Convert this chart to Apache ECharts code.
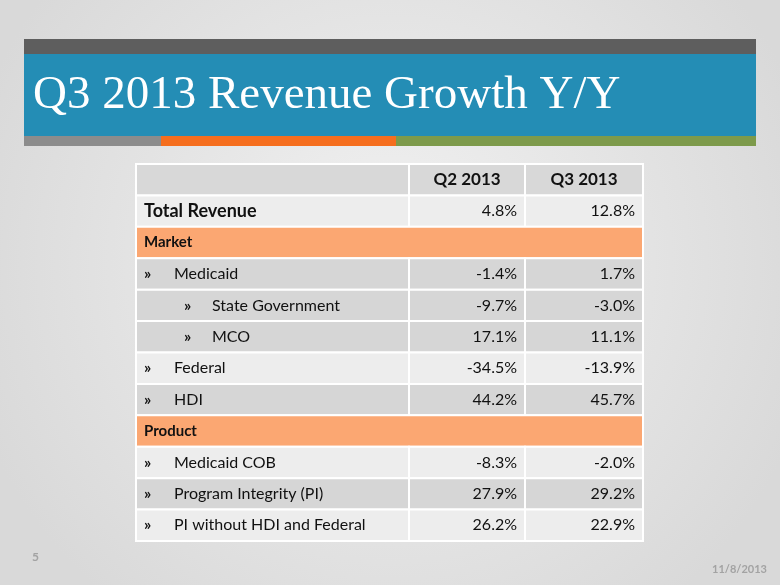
<!DOCTYPE html>
<html><head><meta charset="utf-8">
<script src="https://cdn.jsdelivr.net/npm/echarts@6/dist/echarts.min.js"></script>
<style>html,body{margin:0;padding:0;background:#e6e6e6;}#main{width:780px;height:585px;}</style>
</head><body><div id="main"></div>
<script>
// ---- data ----
const slideTitle = 'Q3 2013 Revenue Growth Y/Y';
const columns = ['Q2 2013', 'Q3 2013'];
const rowLabels = ['Total Revenue', 'Market', 'Medicaid', 'State Government', 'MCO', 'Federal', 'HDI',
  'Product', 'Medicaid COB', 'Program Integrity (PI)', 'PI without HDI and Federal'];
const rowKinds = ['total', 'section', 'item', 'sub', 'sub', 'item', 'item', 'section', 'item', 'item', 'item'];
const q2Growth = [4.8, null, -1.4, -9.7, 17.1, -34.5, 44.2, null, -8.3, 27.9, 26.2];
const q3Growth = [12.8, null, 1.7, -3.0, 11.1, -13.9, 45.7, null, -2.0, 29.2, 22.9];
const pageNumber = '5';
const slideDate = '11/8/2013';

// ---- styles ----
const LIGHT = '#ededed', DARK = '#d6d6d6', ORANGE = '#fba772', HEAD = '#d8d8d8';
const rowFills = [LIGHT, ORANGE, DARK, DARK, DARK, LIGHT, DARK, ORANGE, LIGHT, DARK, LIGHT];
const FONT = 'Lato, "Liberation Sans", sans-serif';

const yCats = ['header'].concat(rowLabels);
const seriesData = yCats.map((c, i) => [0, i]);

function fmt(v) { return v.toFixed(1) + '%'; }

function renderItem(params, api) {
  const idx = api.value(1);
  const cs = params.coordSys;
  const cy = api.coord([0, idx])[1];
  const h = api.size([0, 1])[1];
  const y0 = cy - h / 2;
  const x0 = cs.x, W = cs.width;
  const c1 = x0 + W * 0.5385, c2 = x0 + W * 0.7673, xe = x0 + W;
  const children = [];
  const cell = (x, w, fill) => children.push({
    type: 'rect', shape: { x: x, y: y0, width: w, height: h },
    style: { fill: fill, stroke: '#ffffff', lineWidth: 2 }
  });
  const txt = (t, x, align, size, weight) => children.push({
    type: 'text', style: { text: t, x: x, y: cy, align: align, verticalAlign: 'middle',
      font: weight + ' ' + size + 'px ' + FONT, fill: '#111' }
  });
  if (idx === 0) {
    cell(x0, c1 - x0, HEAD); cell(c1, c2 - c1, HEAD); cell(c2, xe - c2, HEAD);
    txt(columns[0], (c1 + c2) / 2, 'center', 17, 'bold');
    txt(columns[1], (c2 + xe) / 2, 'center', 17, 'bold');
    return { type: 'group', children: children };
  }
  const r = idx - 1;
  const kind = rowKinds[r];
  const fill = rowFills[r];
  if (kind === 'section') {
    cell(x0, W, fill);
    txt(rowLabels[r], x0 + 8, 'left', 15, 'bold');
    return { type: 'group', children: children };
  }
  cell(x0, c1 - x0, fill); cell(c1, c2 - c1, fill); cell(c2, xe - c2, fill);
  if (kind === 'total') {
    txt(rowLabels[r], x0 + 8, 'left', 18, 'bold');
  } else if (kind === 'item') {
    txt('\u00bb', x0 + 8, 'left', 16, 'bold');
    txt(rowLabels[r], x0 + 38, 'left', 16, 'normal');
  } else {
    txt('\u00bb', x0 + 48, 'left', 16, 'bold');
    txt(rowLabels[r], x0 + 76, 'left', 16, 'normal');
  }
  txt(fmt(q2Growth[r]), c2 - 8, 'right', 16, 'normal');
  txt(fmt(q3Growth[r]), xe - 8, 'right', 16, 'normal');
  return { type: 'group', children: children };
}

const chart = echarts.init(document.getElementById('main'), null, { renderer: 'canvas' });
chart.setOption({
  animation: false,
  backgroundColor: {
    type: 'radial', x: 0.5, y: 0.45, r: 0.75,
    colorStops: [{ offset: 0, color: '#f2f2f2' }, { offset: 1, color: '#d9d9d9' }]
  },
  grid: { left: 136, right: 137, top: 164, bottom: 44 },
  xAxis: { type: 'value', min: 0, max: 1, show: false },
  yAxis: { type: 'category', data: yCats, inverse: true, show: false },
  series: [{ type: 'custom', renderItem: renderItem, data: seriesData, encode: { x: 0, y: 1 } }],
  graphic: [
    { type: 'rect', shape: { x: 24, y: 39, width: 732, height: 15 }, style: { fill: '#5e5e5e' } },
    { type: 'rect', shape: { x: 24, y: 54, width: 732, height: 82 }, style: { fill: '#248db5' } },
    { type: 'rect', shape: { x: 24, y: 136, width: 137, height: 10 }, style: { fill: '#8c8c8c' } },
    { type: 'rect', shape: { x: 161, y: 136, width: 235, height: 10 }, style: { fill: '#f56e1e' } },
    { type: 'rect', shape: { x: 396, y: 136, width: 360, height: 10 }, style: { fill: '#7d9a4b' } },
    { type: 'text', style: { text: slideTitle, x: 33, y: 96, verticalAlign: 'middle',
        font: 'normal 47px "Liberation Serif", serif', fill: '#ffffff' } },
    { type: 'text', style: { text: pageNumber, x: 32, y: 557, verticalAlign: 'middle',
        font: 'bold 12px ' + FONT, fill: '#a3a3a3' } },
    { type: 'text', style: { text: slideDate, x: 767, y: 569, align: 'right', verticalAlign: 'middle',
        font: 'bold 11px ' + FONT, fill: '#a3a3a3' } }
  ]
});
</script>
</body></html>
